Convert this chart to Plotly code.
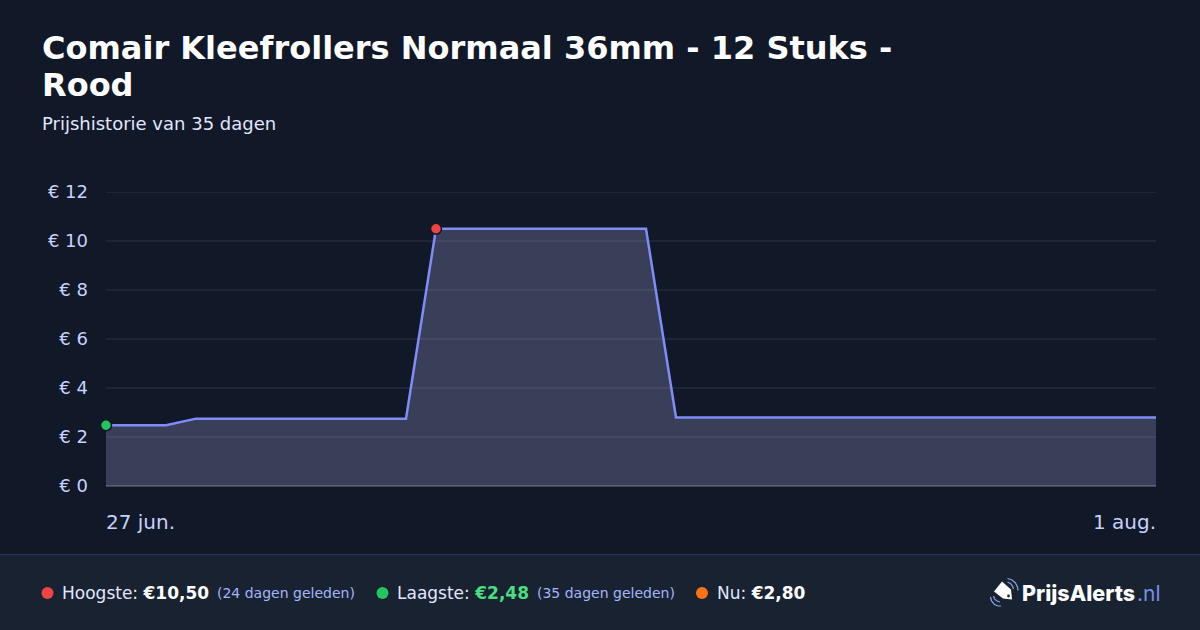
import plotly.graph_objects as go

# --- data -------------------------------------------------------------
dates = ["2025-06-27", "2025-06-28", "2025-06-29", "2025-06-30", "2025-07-01", "2025-07-02",
         "2025-07-03", "2025-07-04", "2025-07-05", "2025-07-06", "2025-07-07", "2025-07-08",
         "2025-07-09", "2025-07-10", "2025-07-11", "2025-07-12", "2025-07-13", "2025-07-14",
         "2025-07-15", "2025-07-16", "2025-07-17", "2025-07-18", "2025-07-19", "2025-07-20",
         "2025-07-21", "2025-07-22", "2025-07-23", "2025-07-24", "2025-07-25", "2025-07-26",
         "2025-07-27", "2025-07-28", "2025-07-29", "2025-07-30", "2025-07-31", "2025-08-01"]
prices = [2.48, 2.48, 2.48, 2.75, 2.75, 2.75, 2.75, 2.75, 2.75, 2.75, 2.75,
          10.50, 10.50, 10.50, 10.50, 10.50, 10.50, 10.50, 10.50,
          2.80, 2.80, 2.80, 2.80, 2.80, 2.80, 2.80, 2.80, 2.80, 2.80, 2.80,
          2.80, 2.80, 2.80, 2.80, 2.80, 2.80]
low_date, low_price = "2025-06-27", 2.48
high_date, high_price = "2025-07-08", 10.50
y_ticks = [0, 2, 4, 6, 8, 10, 12]
y_labels = ["€ 0", "€ 2", "€ 4", "€ 6", "€ 8", "€ 10", "€ 12"]
x_first_label, x_last_label = "27 jun.", "1 aug."
title_lines = ["Comair Kleefrollers Normaal 36mm - 12 Stuks -", "Rood"]
subtitle = "Prijshistorie van 35 dagen"

# --- layout constants -------------------------------------------------
W, H = 1200, 630
L, R, T, B = 106, 1156, 192, 486
FONT = "DejaVu Sans"
BG, FOOT = "#111827", "#182230"
TICK = "#c7d2fe"
LABEL = "#e0e7ff"
ARC = "#8ea2e8"
GRID = "rgba(255,255,255,0.06)"


def px(x):
    return (x - L) / (R - L)


def py(y):
    return (B - y) / (B - T)


def note(x, y, text, size, color, anchor="left", family=FONT, weight=None):
    # annotations carry 2 px of built-in padding; compensate so x is the ink edge
    shift = -2 if anchor == "left" else 2
    font = dict(family=family, size=size, color=color)
    if weight:
        font["weight"] = weight
    return dict(xref="paper", yref="paper", x=px(x + shift), y=py(y), text=text, showarrow=False,
                xanchor=anchor, yanchor="middle", align=anchor, font=font)


def dot(x, y, r, color):
    return dict(type="circle", xref="paper", yref="paper", x0=px(x - r), x1=px(x + r),
                y0=py(y + r), y1=py(y - r), fillcolor=color, line=dict(width=0), layer="above")


def poly(points, **kw):
    path = "M " + " L ".join(f"{px(a):.5f},{py(b):.5f}" for a, b in points) + (" Z" if kw.pop("closed", True) else "")
    return dict(type="path", xref="paper", yref="paper", path=path, **kw)


def arc(points):
    return poly(points, closed=False, line=dict(color=ARC, width=1.2), layer="above")


fig = go.Figure()
fig.add_trace(go.Scatter(x=dates, y=prices, mode="lines", fill="tozeroy",
                         fillcolor="rgba(185,180,239,0.25)",
                         line=dict(color="#818cf8", width=2.5), hoverinfo="skip", showlegend=False))
fig.add_trace(go.Scatter(x=[low_date], y=[low_price], mode="markers", cliponaxis=False,
                         marker=dict(color="#22c55e", size=11, line=dict(color=BG, width=1.5)),
                         hoverinfo="skip", showlegend=False))
fig.add_trace(go.Scatter(x=[high_date], y=[high_price], mode="markers", cliponaxis=False,
                         marker=dict(color="#ef4444", size=11, line=dict(color=BG, width=1.5)),
                         hoverinfo="skip", showlegend=False))

shapes = [
    dict(type="rect", xref="paper", yref="paper", x0=px(0), x1=px(W), y0=py(630), y1=py(554.5),
         fillcolor=FOOT, line=dict(width=0), layer="below"),
    dict(type="line", xref="paper", yref="paper", x0=px(0), x1=px(W), y0=py(554.5), y1=py(554.5),
         line=dict(color="#2a3463", width=1), layer="below"),
    dict(type="line", xref="paper", yref="y", x0=0, x1=1, y0=y_ticks[-1], y1=y_ticks[-1],
         line=dict(color=GRID, width=2), layer="below"),
    dot(47.5, 593, 6, "#ef4444"), dot(382.5, 593, 6, "#22c55e"), dot(702, 593, 6, "#f97316"),
    # logo: price tag with signal arcs
    poly([(1002, 581.5), (1011, 589.5), (1012, 599.5), (1003, 598.5), (994, 591.5)],
         fillcolor="#ffffff", line=dict(width=0), layer="above"),
    dot(1008.5, 596, 1.4, FOOT),
    arc([(1007.5, 582), (1010.5, 583.5), (1012.5, 586), (1013.5, 589)]),
    arc([(1007.5, 578.5), (1012, 580), (1015.5, 583), (1017.5, 587), (1018, 590.5)]),
    arc([(993.5, 596), (994.5, 599), (997, 601), (1000, 602)]),
    arc([(990.5, 597), (991.5, 601), (994.5, 604.5), (998, 606), (1001, 606)]),
]

annotations = [
    note(42, 48, f"<b>{title_lines[0]}</b>", 32, "#ffffff"),
    note(42, 85, f"<b>{title_lines[1]}</b>", 32, "#ffffff"),
    note(42, 124, subtitle, 18, LABEL),
    note(106, 522, x_first_label, 20, TICK),
    note(1156, 522, x_last_label, 20, TICK, anchor="right"),
    note(62, 593, "Hoogste: <b><span style='color:#ffffff'>€10,50</span></b>", 17, LABEL),
    note(217, 593, "(24 dagen geleden)", 14, "#a5b4fc"),
    note(397, 593, "Laagste: <b><span style='color:#4ade80'>€2,48</span></b>", 17, LABEL),
    note(537, 593, "(35 dagen geleden)", 14, "#a5b4fc"),
    note(717, 593, "Nu: <b><span style='color:#ffffff'>€2,80</span></b>", 17, LABEL),
    note(1022, 593, "PrijsAlerts", 21.5, "#ffffff", family="Inter", weight=800),
    note(1136.5, 593, ".nl", 21, "#7a8de8", family="Inter"),
]

fig.update_layout(
    width=W, height=H, autosize=False,
    margin=dict(l=L, r=W - R, t=T, b=H - B, pad=0),
    paper_bgcolor=BG, plot_bgcolor=BG,
    font=dict(family=FONT),
    showlegend=False,
    shapes=shapes, annotations=annotations,
    xaxis=dict(type="date", range=[dates[0], dates[-1]], showgrid=False, showticklabels=False,
               ticks="", zeroline=False, showline=False),
    yaxis=dict(range=[0, 12], tickvals=y_ticks, ticktext=y_labels, ticks="", ticklabelstandoff=17,
               gridcolor=GRID, gridwidth=2, zeroline=True,
               zerolinecolor="rgba(255,255,255,0.2)", zerolinewidth=1.5, showline=False,
               tickfont=dict(family=FONT, size=18, color=TICK)),
)

fig.write_html("out.html", config={"displayModeBar": False},
               post_script="document.body.style.margin='0';document.body.style.background='#111827';")
